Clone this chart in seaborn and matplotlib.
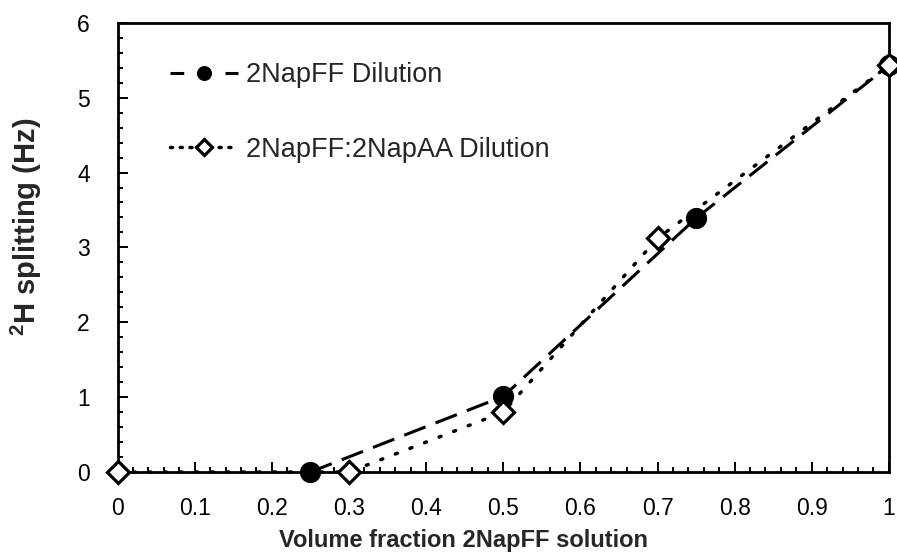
import matplotlib
matplotlib.use("Agg")
import matplotlib.pyplot as plt
from matplotlib.ticker import MultipleLocator, FuncFormatter
import seaborn as sns
import pandas as pd

# Deuterium splitting versus volume fraction of 2NapFF solution
ff_fraction = [0.25, 0.5, 0.75, 1.0]
ff_splitting = [0.0, 1.01, 3.39, 5.43]

ffaa_fraction = [0.0, 0.3, 0.5, 0.7, 1.0]
ffaa_splitting = [0.0, 0.0, 0.80, 3.12, 5.43]

series_labels = ["2NapFF Dilution", "2NapFF:2NapAA Dilution"]

sns.set_theme(style="white")
plt.rcParams["font.family"] = ["Liberation Sans", "DejaVu Sans"]
plt.rcParams["mathtext.fontset"] = "custom"
plt.rcParams["mathtext.bf"] = "Liberation Sans:bold"

fig = plt.figure(figsize=(8.97, 5.56), dpi=100)
ax = fig.add_axes([0.131, 0.151, 0.860, 0.808])

df_ff = pd.DataFrame({"x": ff_fraction, "y": ff_splitting})
df_ffaa = pd.DataFrame({"x": ffaa_fraction, "y": ffaa_splitting})

sns.lineplot(data=df_ff, x="x", y="y", ax=ax, color="black", lw=2.2,
             linestyle=(0, (7.5, 3.5)), marker="o", markersize=14.5,
             markerfacecolor="black", markeredgecolor="black",
             label=series_labels[0], sort=False, clip_on=False, zorder=4)
sns.lineplot(data=df_ffaa, x="x", y="y", ax=ax, color="black", lw=2.5,
             linestyle=(0, (0.6, 3.9)), dash_capstyle="round", marker="D",
             markersize=11.5, markerfacecolor="white", markeredgecolor="black",
             markeredgewidth=2.3, label=series_labels[1], sort=False,
             clip_on=False, zorder=5)

ax.set_xlim(0, 1)
ax.set_ylim(0, 6)
ax.xaxis.set_major_locator(MultipleLocator(0.1))
ax.xaxis.set_minor_locator(MultipleLocator(0.02))
ax.yaxis.set_major_locator(MultipleLocator(1))
ax.yaxis.set_minor_locator(MultipleLocator(0.2))
ax.xaxis.set_major_formatter(FuncFormatter(lambda v, p: f"{v:g}"))

ax.tick_params(axis="both", which="both", direction="in", bottom=True, left=True,
               top=False, right=False, colors="black", labelsize=16.5, width=1.4)
ax.tick_params(which="major", length=7)
ax.tick_params(which="minor", length=3.5)
ax.tick_params(axis="x", which="major", pad=18)
ax.tick_params(axis="y", which="major", pad=20)

for sp in ax.spines.values():
    sp.set_color("black")
    sp.set_linewidth(2.0)

ax.set_xlabel("Volume fraction 2NapFF solution", fontsize=17, fontweight="bold")
ax.set_ylabel("$\\mathbf{^2}$H splitting (Hz)", fontsize=21, fontweight="bold")
ax.xaxis.set_label_coords(0.448, -0.127)
ax.yaxis.set_label_coords(-0.095, 0.547)

leg = ax.legend(loc="upper left", frameon=False, fontsize=19.5, handlelength=2.5,
                labelspacing=1.78, bbox_to_anchor=(0.068, 0.912),
                borderaxespad=0.0, handletextpad=0.3, borderpad=0.0)
leg_lines = leg.get_lines()
leg_lines[0].set_linestyle((0, (4.5, 4.5)))
leg_lines[0].set_markersize(10)
leg_lines[1].set_linestyle((0, (0.6, 2.2)))
leg_lines[1].set_markersize(8)

fig.savefig("out.png", dpi=100)
